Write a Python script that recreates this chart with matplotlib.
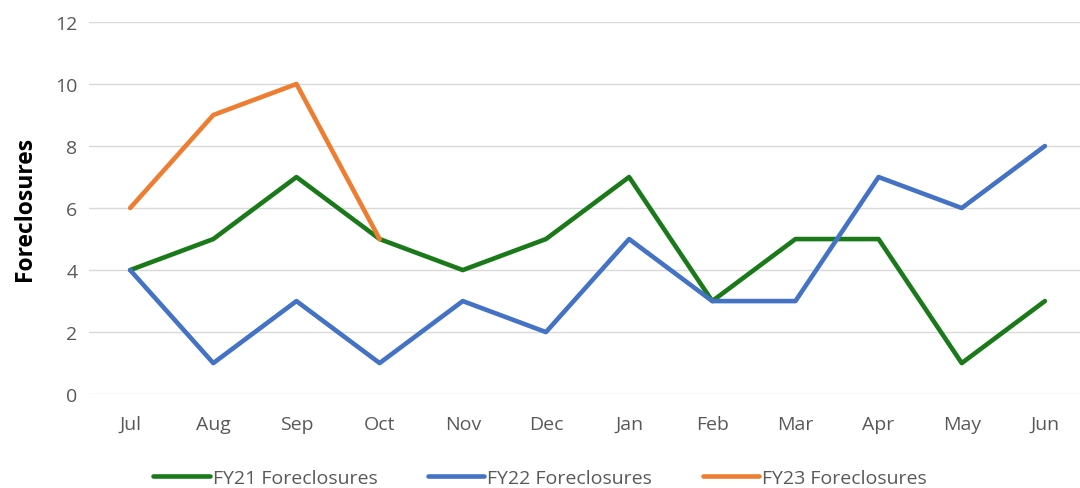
import matplotlib
matplotlib.use("Agg")
import matplotlib.pyplot as plt

months = ["Jul", "Aug", "Sep", "Oct", "Nov", "Dec", "Jan", "Feb", "Mar", "Apr", "May", "Jun"]
fy21 = [4, 5, 7, 5, 4, 5, 7, 3, 5, 5, 1, 3]
fy22 = [4, 1, 3, 1, 3, 2, 5, 3, 3, 7, 6, 8]
fy23 = [6, 9, 10, 5]

plt.rcParams["font.family"] = ["Open Sans", "DejaVu Sans"]

fig = plt.figure(figsize=(10.8, 4.89), dpi=100)
ax = fig.add_axes([0.082, 0.192, 0.924, 0.761])

x = list(range(len(months)))
ax.plot(x, fy21, color="#1A7A1A", lw=3.3, label="FY21 Foreclosures", solid_capstyle="round")
ax.plot(x, fy22, color="#4472C4", lw=3.3, label="FY22 Foreclosures", solid_capstyle="round")
ax.plot(x[:len(fy23)], fy23, color="#ED7D31", lw=3.3, label="FY23 Foreclosures", solid_capstyle="round")

ax.set_xlim(-0.5, len(months) - 0.5)
ax.set_ylim(0, 12)
ax.set_yticks(range(0, 13, 2))
ax.set_xticks(x)
ax.set_xticklabels(months)
ax.grid(axis="y", color="#D9D9D9", lw=1)
ax.set_axisbelow(True)
for s in ax.spines.values():
    s.set_visible(False)
ax.tick_params(length=0, labelsize=14, labelcolor="#595959")
ax.tick_params(axis="x", pad=15)
ax.tick_params(axis="y", pad=8)
ax.set_ylabel("Foreclosures", fontsize=16.5, fontweight="bold", color="black", labelpad=13)

fig.legend(loc="center", bbox_to_anchor=(0.5, 0.02), ncol=3, frameon=False,
           fontsize=14, labelcolor="#595959", handlelength=2.9, handletextpad=0.15,
           columnspacing=2.6)

fig.savefig("out.png", dpi=100)
